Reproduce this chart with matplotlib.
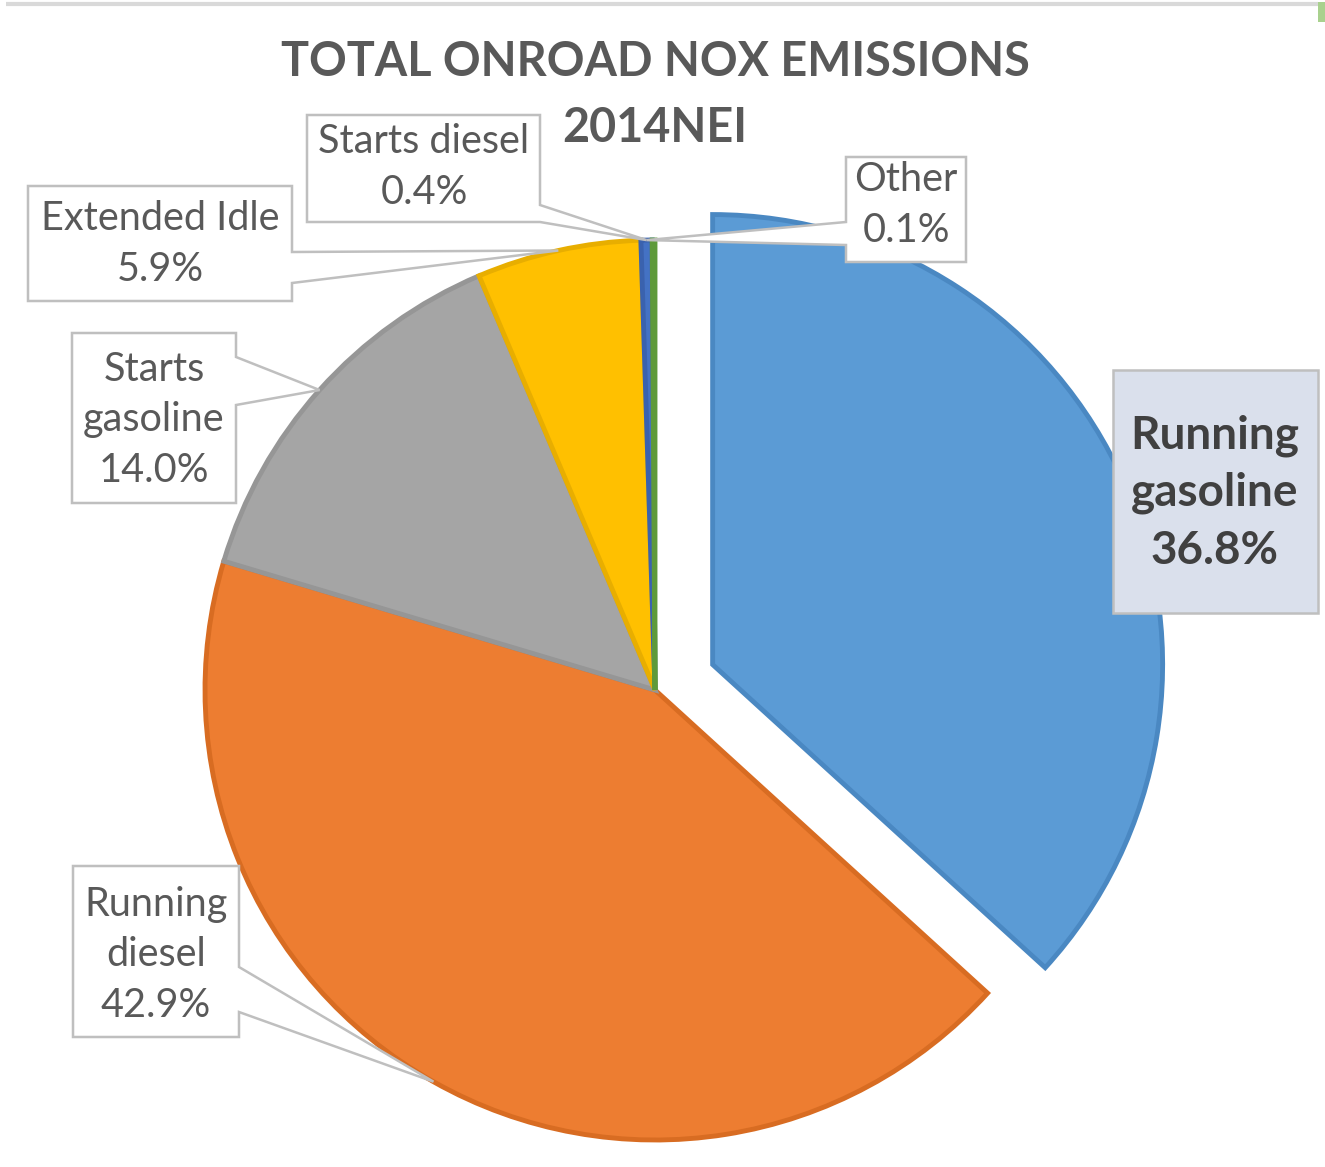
import numpy as np
import matplotlib.pyplot as plt
from matplotlib.patches import Polygon, Rectangle

# ------------------------------------------------------------------------------
categories = ['Running\ngasoline', 'Running\ndiesel', 'Starts\ngasoline',
              'Extended Idle', 'Starts diesel', 'Other']
shares = [36.8, 42.9, 14.0, 5.9, 0.4, 0.1]
colors = ['#5B9BD5', '#ED7D31', '#A5A5A5', '#FFC000', '#4472C4', '#70AD47']
edges = ['#4A88C2', '#D86C22', '#969696', '#E8AE00', '#3A62AE', '#5E9A3A']

W, H = 1325, 1167
cx, cy, R = 655, 690, 450
explode = [0.14 * R, 0, 0, 0, 0, 0]   # pie() takes explode in data units here
txt = '#595959'
plt.rcParams['font.family'] = ['Lato', 'DejaVu Sans']


def anchor(i, rr=1.0):
    # point on the rim, middle of slice i (y axis points down)
    tot = float(sum(shares))
    f = (sum(shares[:i]) + shares[i] / 2.) / tot
    th = np.deg2rad(-90 + 360 * f)
    return cx + rr * R * np.cos(th), cy + rr * R * np.sin(th)


def callout(ax, box, side, b, tip, fc='white'):
    x0, y0, x1, y1 = box
    if side == 'right':
        pts = [(x0, y0), (x1, y0), (x1, b[0]), tip, (x1, b[1]), (x1, y1), (x0, y1)]
    elif side == 'left':
        pts = [(x0, y0), (x1, y0), (x1, y1), (x0, y1), (x0, b[1]), tip, (x0, b[0])]
    else:
        pts = [(x0, y0), (x1, y0), (x1, y1), (x0, y1)]
    ax.add_patch(Polygon(pts, closed=True, fc=fc, ec='#BFBFBF', lw=1.8, zorder=3))


fig = plt.figure(figsize=(W / 100., H / 100.), dpi=100)
ax = fig.add_axes([0, 0, 1, 1])

wedges, _ = ax.pie(shares, colors=colors, explode=explode, radius=R,
                   center=(cx, cy), startangle=-90, counterclock=True,
                   frame=True)
for w, ec in zip(wedges, edges):
    w.set_edgecolor(ec)
    w.set_linewidth(3.5)
    w.set_zorder(2)

# callouts (on top of the pie, tails end at the rim)
callout(ax, (1113, 370, 1318, 613), None, None, None, fc='#DAE0EC')
callout(ax, (73, 866, 239, 1037), 'right', (967, 1012), anchor(1, 1.0))
callout(ax, (72, 333, 236, 503), 'right', (357, 405), anchor(2, 1.0))
callout(ax, (28, 186, 292, 301), 'right', (252, 283), anchor(3, 1.0))
callout(ax, (307, 115, 540, 222), 'right', (205, 222), anchor(4, 1.0))
callout(ax, (846, 157, 966, 262), 'left', (222, 245), anchor(4, 1.0))

ax.set_xlim(0, W)
ax.set_ylim(H, 0)
ax.set_aspect('equal')
ax.axis('off')

lab_pos = [(1215, 493), (156, 955), (154, 420), (160, 244), (424, 167), (906, 205)]
for i, (x, y) in enumerate(lab_pos):
    s = '{0}\n{1:.1f}%'.format(categories[i], shares[i])
    if i == 0:
        ax.text(x, y, s, ha='center', va='center', fontsize=33,
                fontweight='bold', color='#404040', linespacing=1.45, zorder=4)
    else:
        ax.text(x, y, s, ha='center', va='center', fontsize=28.5,
                color=txt, linespacing=1.45, zorder=4)

ax.text(655, 62, 'TOTAL ONROAD NOX EMISSIONS', ha='center', va='center',
        fontsize=33.7, fontweight='bold', color=txt)
ax.text(655, 128, '2014NEI', ha='center', va='center',
        fontsize=33.7, fontweight='bold', color=txt)

# frame bits
ax.plot([6, 1318], [4, 4], color='#D9D9D9', lw=3, solid_capstyle='butt')
ax.add_patch(Rectangle((1318, 2), 8, 20, fc='#A9D18E', ec='none'))

plt.savefig('out.png', dpi=100)
plt.close()
